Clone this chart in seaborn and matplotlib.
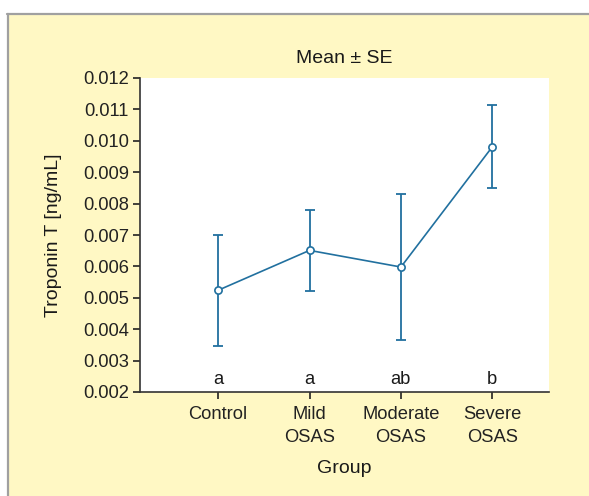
import matplotlib
matplotlib.use("Agg")
import matplotlib.pyplot as plt
import seaborn as sns
import pandas as pd
import numpy as np
from matplotlib.patches import Rectangle
from matplotlib.lines import Line2D

groups = ["Control", "Mild\nOSAS", "Moderate\nOSAS", "Severe\nOSAS"]
means = [0.00524, 0.00651, 0.00598, 0.00981]
upper = [0.00701, 0.00780, 0.00832, 0.01114]
lower = [0.00348, 0.00521, 0.00367, 0.00850]
letters = ["a", "a", "ab", "b"]
yticks = [0.002, 0.003, 0.004, 0.005, 0.006, 0.007, 0.008, 0.009, 0.010, 0.011, 0.012]

sns.set_style("ticks")
plt.rcParams['font.family'] = ['Liberation Sans', 'DejaVu Sans']

LINE = "#21709f"
BG = "#fff8c4"
FS = 13.2

fig = plt.figure(figsize=(5.89, 4.96), dpi=100, facecolor="white")
W, H = 589, 496
# yellow panel
fig.patches.append(Rectangle((7 / W, 0), 1, 1 - 13 / H, transform=fig.transFigure,
                             facecolor=BG, edgecolor="none", zorder=-10))
fig.lines.append(Line2D([7 / W, 1], [1 - 14 / H, 1 - 14 / H], transform=fig.transFigure,
                        color="#a0a0a0", lw=1.6))
fig.lines.append(Line2D([8 / W, 8 / W], [0, 1 - 14 / H], transform=fig.transFigure,
                        color="#a0a0a0", lw=1.6))

ax = fig.add_axes([140 / W, 1 - 392 / H, (549 - 140) / W, (392 - 78) / H])
ax.set_facecolor("white")

df = pd.DataFrame({"Group": groups, "Mean": means})
m = np.array(means)
ax.errorbar(np.arange(len(groups)), m,
            yerr=[m - np.array(lower), np.array(upper) - m],
            fmt="none", ecolor=LINE, elinewidth=1.3, capsize=3.3, capthick=1.3, zorder=2)
sns.pointplot(data=df, x="Group", y="Mean", order=groups, color=LINE, errorbar=None,
              markers="o", linewidth=1.2, markersize=5.2,
              markerfacecolor="white", markeredgecolor=LINE, markeredgewidth=1.2,
              ax=ax, zorder=3)

for i, t in enumerate(letters):
    ax.text(i, 0.0024, t, ha="center", va="center", fontsize=FS, color="#1a1a1a")

ax.set_xlim(-0.855, 3.62)
ax.set_ylim(0.002, 0.012)
ax.set_yticks(yticks)
ax.set_yticklabels([f"{v:.3f}" for v in yticks])
ax.set_xticks(range(len(groups)))
ax.set_xticklabels(groups, linespacing=1.45)
ax.tick_params(axis="both", labelsize=FS, colors="#222222", length=5, width=1.2, pad=3)
ax.tick_params(axis="x", pad=5)
for s in ["top", "right"]:
    ax.spines[s].set_visible(False)
for s in ["left", "bottom"]:
    ax.spines[s].set_color("#333333")
    ax.spines[s].set_linewidth(1.2)

ax.set_xlabel("Group", fontsize=14, color="#1a1a1a", labelpad=10)
ax.set_ylabel("Troponin T [ng/mL]", fontsize=14, color="#1a1a1a", labelpad=15)
ax.set_title("Mean ± SE", fontsize=14, color="#1a1a1a", pad=11)

fig.savefig("out.png", dpi=100, facecolor="white")
